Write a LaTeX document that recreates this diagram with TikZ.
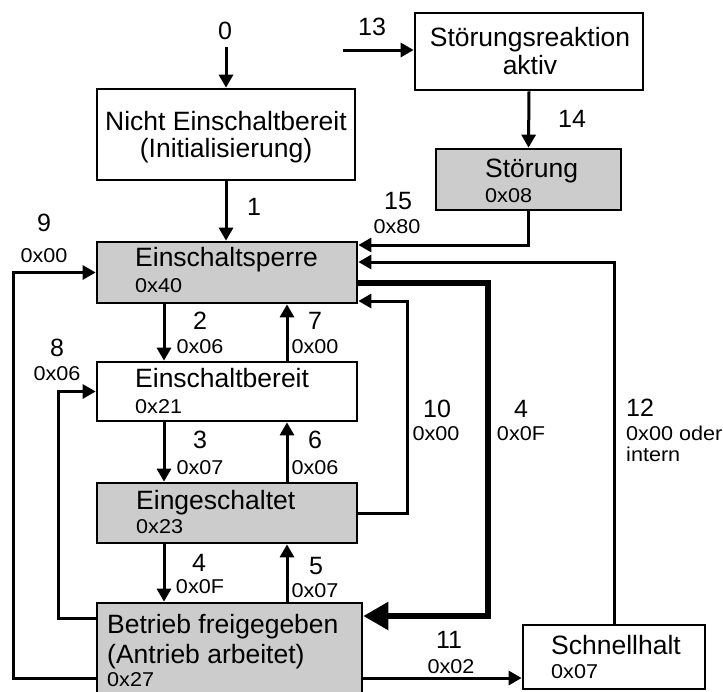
\documentclass[tikz,border=0pt]{standalone}
\usepackage{fontspec}
\setmainfont{Liberation Sans}
\newfontfamily\hexfont[FakeStretch=1.08]{Liberation Sans}
\usetikzlibrary{arrows.meta}
\definecolor{stategray}{RGB}{204,204,204}
\tikzset{
    box/.style={draw, line width=2.7pt, rectangle, inner sep=0pt},
    graybox/.style={box, fill=stategray},
    title/.style={font=\fontsize{26.5}{27.5}\selectfont, inner sep=0pt, anchor=base},
    hex/.style={font=\hexfont\fontsize{20}{23}\selectfont, inner sep=0pt, anchor=base},
    num/.style={font=\fontsize{25}{27}\selectfont, inner sep=0pt, anchor=base},
    conn/.style={-{Triangle[length=13pt,width=14pt]}, line width=3pt},
    bigconn/.style={-{Triangle[length=25pt,width=27pt]}, line width=5.5pt},
}
\begin{document}
\begin{tikzpicture}[x=1pt, y=-1pt]
    \useasboundingbox (0,0) rectangle (723,691);

    % states
    \node[box, minimum width=258, minimum height=91] (nicht) at (226,134.5) {};
    \node[box, minimum width=228, minimum height=77] (reakt) at (529,51.5) {};
    \node[graybox, minimum width=185, minimum height=61] (stoer) at (528.5,179.5) {};
    \node[graybox, minimum width=260, minimum height=61] (sperre) at (227,272.5) {};
    \node[box, minimum width=260, minimum height=59] (bereit) at (227,391.5) {};
    \node[graybox, minimum width=260, minimum height=60] (ein) at (227,513) {};
    \node[graybox, minimum width=265, minimum height=107] (betrieb) at (229.5,656.5) {};
    \node[box, minimum width=182, minimum height=64] (schnell) at (614,657) {};

    \node[title] (nicht-a) at (226,130) {Nicht Einschaltbereit};
    \node[title] (nicht-b) at (226,157) {(Initialisierung)};
    \node[title] (reakt-a) at (530,46) {Störungsreaktion};
    \node[title] (reakt-b) at (530,74) {aktiv};
    \node[title, anchor=base west] (stoer-a) at (485,177) {Störung};
    \node[hex, anchor=base west] (stoer-b) at (485,202) {0x08};
    \node[title, anchor=base west] (sperre-a) at (135,266) {Einschaltsperre};
    \node[hex, anchor=base west] (sperre-b) at (135,292) {0x40};
    \node[title, anchor=base west] (bereit-a) at (135,387) {Einschaltbereit};
    \node[hex, anchor=base west] (bereit-b) at (135,413) {0x21};
    \node[title, anchor=base west] (ein-a) at (136,509) {Eingeschaltet};
    \node[hex, anchor=base west] (ein-b) at (136,533) {0x23};
    \node[title, anchor=base west] (betrieb-a) at (107,633) {Betrieb freigegeben};
    \node[title, anchor=base west] (betrieb-b) at (107,663) {(Antrieb arbeitet)};
    \node[hex, anchor=base west] (betrieb-c) at (107,686) {0x27};
    \node[title, anchor=base west] (schnell-a) at (551,654) {Schnellhalt};
    \node[hex, anchor=base west] (schnell-b) at (551,678) {0x07};

    % columns and rows of the connectors
    \coordinate (cL) at (164,0);
    \coordinate (cR) at (287,0);
    \coordinate (c9) at (13,0);
    \coordinate (c8) at (58,0);
    \coordinate (c10) at (407,0);
    \coordinate (c4) at (488,0);
    \coordinate (r15) at (0,245);
    \coordinate (r12) at (0,262);
    \coordinate (r4) at (0,283);
    \coordinate (r10) at (0,301);
    \coordinate (r4b) at (0,616);
    \coordinate (r8) at (0,618);
    \coordinate (r9) at (0,678);
    \coordinate (s0) at (226,47);
    \coordinate (s13) at (343,50);

    % transitions
    \draw[conn] (s0) -- (nicht.north);
    \draw[conn] (s13) -- (s13 -| reakt.west);
    \draw[conn] (reakt.south) -- (stoer.north);
    \draw[conn] (nicht.south) -- (nicht.south |- sperre.north);
    \draw[conn] (stoer.south) |- (r15 -| sperre.east);
    \draw[conn] (schnell.north) |- (r12 -| sperre.east);
    \draw[bigconn] (r4 -| sperre.east) -| (c4 |- r4b) -- (r4b -| betrieb.east);
    \draw[conn] (ein.east) -| (c10 |- r10) -- (r10 -| sperre.east);
    \draw[conn] (cL |- sperre.south) -- (cL |- bereit.north);
    \draw[conn] (cR |- bereit.north) -- (cR |- sperre.south);
    \draw[conn] (cL |- bereit.south) -- (cL |- ein.north);
    \draw[conn] (cR |- ein.north) -- (cR |- bereit.south);
    \draw[conn] (cL |- ein.south) -- (cL |- betrieb.north);
    \draw[conn] (cR |- betrieb.north) -- (cR |- ein.south);
    \draw[conn] (r8 -| betrieb.west) -| (c8 |- bereit.west) -- (bereit.west);
    \draw[conn] (r9 -| betrieb.west) -| (c9 |- sperre.west) -- (sperre.west);
    \draw[conn] (r9 -| betrieb.east) -- (r9 -| schnell.west);

    % labels
    \node[num] (l0) at (225,39) {0};
    \node[num] (l13) at (372,35) {13};
    \node[num] (l14) at (572,127) {14};
    \node[num] (l1) at (254,215) {1};
    \node[num] (l15) at (398,209) {15};
    \node[hex] (h15) at (397,233) {0x80};
    \node[num] (l9) at (44,231) {9};
    \node[hex] (h9) at (44,262) {0x00};
    \node[num] (l2) at (200,329) {2};
    \node[hex] (h2) at (200,353) {0x06};
    \node[num] (l7) at (315,329) {7};
    \node[hex] (h7) at (315,353) {0x00};
    \node[num] (l8) at (57,356) {8};
    \node[hex] (h8) at (57,380) {0x06};
    \node[num] (l3) at (200,448) {3};
    \node[hex] (h3) at (200,474) {0x07};
    \node[num] (l6) at (315,448) {6};
    \node[hex] (h6) at (315,474) {0x06};
    \node[num] (l4) at (199,571) {4};
    \node[hex] (h4) at (200,593) {0x0F};
    \node[num] (l5) at (316,574) {5};
    \node[hex] (h5) at (315,597) {0x07};
    \node[num] (l10) at (437,417) {10};
    \node[hex] (h10) at (436,440) {0x00};
    \node[num] (l4r) at (521,417) {4};
    \node[hex] (h4r) at (521,440) {0x0F};
    \node[num] (l11) at (449,648) {11};
    \node[hex] (h11) at (451,673) {0x02};
    \node[num, anchor=base west] (l12) at (626,416) {12};
    \node[hex, anchor=base west] (h12a) at (626,440) {0x00 oder};
    \node[hex, anchor=base west] (h12b) at (626,461) {intern};
\end{tikzpicture}
\end{document}
